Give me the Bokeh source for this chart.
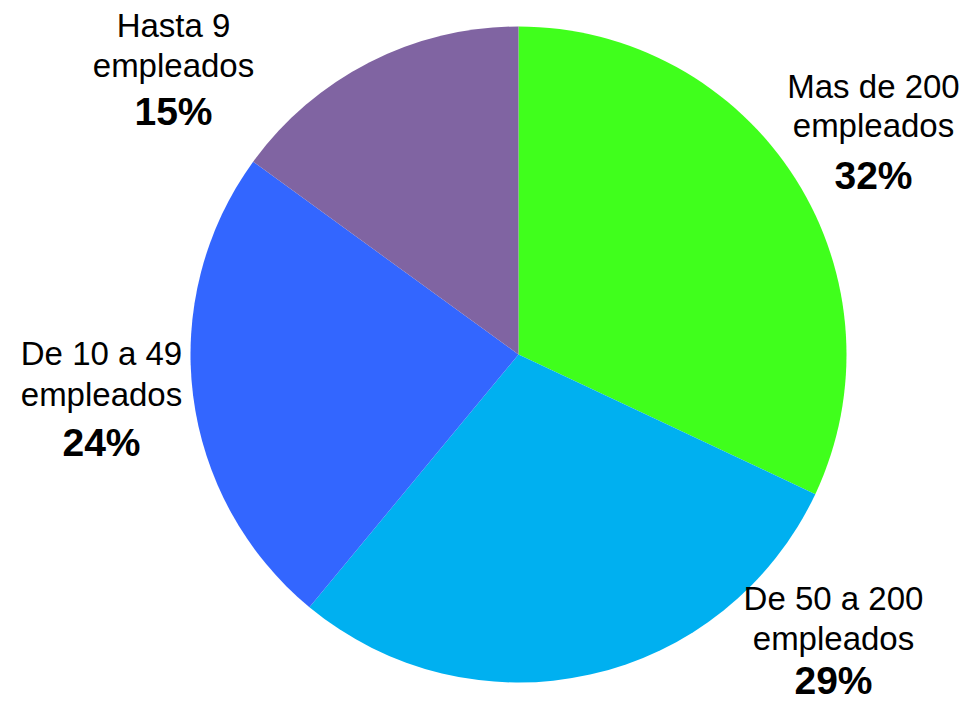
import math
from bokeh.plotting import figure
from bokeh.models import Range1d, ColumnDataSource
from bokeh.core.properties import value
from bokeh.embed import file_html
from bokeh.resources import INLINE

categories = ["Mas de 200 empleados", "De 50 a 200 empleados", "De 10 a 49 empleados", "Hasta 9 empleados"]
label_line1 = ["Mas de 200", "De 50 a 200", "De 10 a 49", "Hasta 9"]
label_line2 = ["empleados", "empleados", "empleados", "empleados"]
shares = [32, 29, 24, 15]
colors = ["#40FF1C", "#00B0F0", "#3366FF", "#8064A2"]

W, H = 961, 700
p = figure(width=W, height=H, output_backend="svg", toolbar_location=None,
           x_range=Range1d(0, W), y_range=Range1d(0, H), min_border=0)
p.axis.visible = False
p.grid.visible = False
p.outline_line_color = None
p.background_fill_color = "white"
p.border_fill_color = "white"

cx, cy, r = 518, H - 354, 328
total = sum(shares)
starts, ends = [], []
cum = 0
for s in shares:
    starts.append(math.pi / 2 - 2 * math.pi * cum / total)
    cum += s
    ends.append(math.pi / 2 - 2 * math.pi * cum / total)

src = ColumnDataSource(dict(x=[cx] * 4, y=[cy] * 4, start=starts, end=ends, color=colors, cat=categories))
p.wedge(x="x", y="y", radius=r, start_angle="start", end_angle="end", direction="clock",
        fill_color="color", line_color=None, source=src)

# label anchor positions (px from the figure's top-left)
lx = [873, 833, 101, 173]
b1 = [86, 598, 353, 25]
b2 = [125, 638, 394, 65]
b3 = [175, 680, 442, 111]

font = value("Liberation Sans")
l1 = ColumnDataSource(dict(x=lx, y=[H - v for v in b1], t=label_line1))
l2 = ColumnDataSource(dict(x=lx, y=[H - v for v in b2], t=label_line2))
l3 = ColumnDataSource(dict(x=lx, y=[H - v for v in b3], t=[f"{s}%" for s in shares]))
for s, bold in ((l1, False), (l2, False), (l3, True)):
    p.text(x="x", y="y", text="t", source=s, text_font=font,
           text_font_size="39px" if bold else "33px",
           text_font_style="bold" if bold else "normal",
           text_align="center", text_baseline="alphabetic", text_color="black")

open("out.html", "w").write(file_html(p, INLINE))
